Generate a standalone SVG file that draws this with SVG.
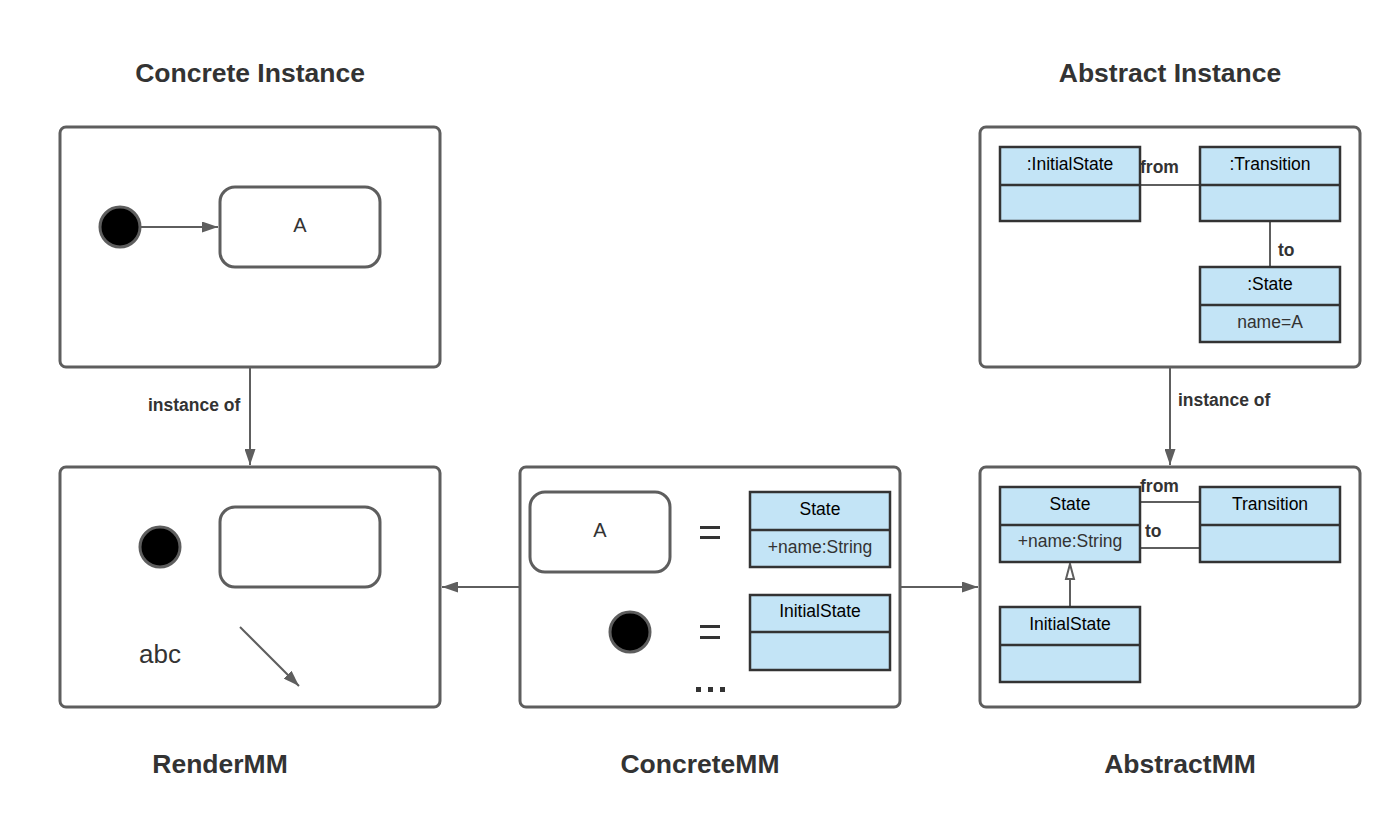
<svg xmlns="http://www.w3.org/2000/svg" width="1400" height="837" viewBox="0 0 1400 837">
<style>
.frame{fill:#fff;stroke:#5e5e5e;stroke-width:3}
.st{fill:#fff;stroke:#5e5e5e;stroke-width:3}
.dot{fill:#000;stroke:#5e5e5e;stroke-width:3}
.cls{fill:#c3e4f6;stroke:#333;stroke-width:2.5}
.div{stroke:#333;stroke-width:2.5}
.ln{stroke:#5e5e5e;stroke-width:2;fill:none}
.title{font-family:"Liberation Sans",Arial,sans-serif;font-weight:bold;font-size:26.5px;fill:#333;text-anchor:middle}
.lbl{font-family:"Liberation Sans",Arial,sans-serif;font-weight:bold;font-size:17.5px;fill:#333}
.t{font-family:"Liberation Sans",Arial,sans-serif;font-size:17.5px;fill:#000;text-anchor:middle}
.tg{font-family:"Liberation Sans",Arial,sans-serif;font-size:17.5px;fill:#333;text-anchor:middle}
</style>
<defs>
<marker id="ah" viewBox="0 0 16 11" refX="16" refY="5.5" markerWidth="16" markerHeight="11" markerUnits="userSpaceOnUse" orient="auto"><path d="M0,0 L16,5.5 L0,11 Z" fill="#5e5e5e"/></marker>
<marker id="tri" viewBox="0 0 12 18" refX="6" refY="1" markerWidth="12" markerHeight="18" markerUnits="userSpaceOnUse" orient="0"><path d="M6,1 L10,16 L2,16 Z" fill="#fff" stroke="#5e5e5e" stroke-width="2"/></marker>
</defs>
<rect width="1400" height="837" fill="#fff"/>

<text class="title" x="250" y="82">Concrete Instance</text>
<text class="title" x="1170" y="82">Abstract Instance</text>
<text class="title" x="220" y="773">RenderMM</text>
<text class="title" x="700" y="773">ConcreteMM</text>
<text class="title" x="1180" y="773">AbstractMM</text>

<g id="concrete-instance">
<rect class="frame" x="60" y="127" width="380" height="240" rx="6"/>
<circle class="dot" cx="120" cy="227" r="20"/>
<line class="ln" x1="141" y1="227" x2="218" y2="227" marker-end="url(#ah)"/>
<rect class="st" x="220" y="187" width="160" height="80" rx="15"/>
<text class="tg" x="300" y="232" style="font-size:20px">A</text>
</g>

<g id="abstract-instance">
<rect class="frame" x="980" y="127" width="380" height="240" rx="6"/>
<line class="ln" x1="1140" y1="185" x2="1200" y2="185"/>
<line class="ln" x1="1270" y1="221" x2="1270" y2="267"/>
<text class="lbl" x="1140" y="173">from</text>
<text class="lbl" x="1278" y="256">to</text>
<rect class="cls" x="1000" y="147" width="140" height="74"/>
<line class="div" x1="1000" y1="185" x2="1140" y2="185"/>
<text class="t" x="1070" y="170">:InitialState</text>
<rect class="cls" x="1200" y="147" width="140" height="74"/>
<line class="div" x1="1200" y1="185" x2="1340" y2="185"/>
<text class="t" x="1270" y="170">:Transition</text>
<rect class="cls" x="1200" y="267" width="140" height="75"/>
<line class="div" x1="1200" y1="305" x2="1340" y2="305"/>
<text class="t" x="1270" y="290">:State</text>
<text class="tg" x="1270" y="328">name=A</text>
</g>

<g id="render-mm">
<rect class="frame" x="60" y="467" width="380" height="240" rx="6"/>
<circle class="dot" cx="160" cy="547" r="20"/>
<rect class="st" x="220" y="507" width="160" height="80" rx="15"/>
<text class="tg" x="160" y="663" style="font-size:26px">abc</text>
<line class="ln" x1="240" y1="627" x2="299" y2="686" marker-end="url(#ah)"/>
</g>

<g id="concrete-mm">
<rect class="frame" x="520" y="467" width="380" height="240" rx="6"/>
<rect class="st" x="530" y="492" width="140" height="80" rx="15"/>
<text class="tg" x="600" y="537" style="font-size:20px">A</text>
<rect x="700" y="526" width="20" height="3" fill="#333"/>
<rect x="700" y="536" width="20" height="3" fill="#333"/>
<rect class="cls" x="750" y="492" width="140" height="75"/>
<line class="div" x1="750" y1="530" x2="890" y2="530"/>
<text class="t" x="820" y="515">State</text>
<text class="tg" x="820" y="553">+name:String</text>
<circle class="dot" cx="630" cy="632" r="20"/>
<rect x="700" y="625" width="20" height="3" fill="#333"/>
<rect x="700" y="636" width="20" height="3" fill="#333"/>
<rect class="cls" x="750" y="595" width="140" height="75"/>
<line class="div" x1="750" y1="632" x2="890" y2="632"/>
<text class="t" x="820" y="617">InitialState</text>
<rect x="696" y="687" width="5" height="5" fill="#333"/>
<rect x="708" y="687" width="5" height="5" fill="#333"/>
<rect x="720" y="687" width="5" height="5" fill="#333"/>
</g>

<g id="abstract-mm">
<rect class="frame" x="980" y="467" width="380" height="240" rx="6"/>
<line class="ln" x1="1140" y1="502" x2="1200" y2="502"/>
<line class="ln" x1="1140" y1="548" x2="1200" y2="548"/>
<text class="lbl" x="1140" y="492">from</text>
<text class="lbl" x="1145" y="537">to</text>
<line class="ln" x1="1070" y1="607" x2="1070" y2="564" marker-end="url(#tri)"/>
<rect class="cls" x="1000" y="487" width="140" height="75"/>
<line class="div" x1="1000" y1="525" x2="1140" y2="525"/>
<text class="t" x="1070" y="510">State</text>
<text class="tg" x="1070" y="547">+name:String</text>
<rect class="cls" x="1200" y="487" width="140" height="75"/>
<line class="div" x1="1200" y1="525" x2="1340" y2="525"/>
<text class="t" x="1270" y="510">Transition</text>
<rect class="cls" x="1000" y="607" width="140" height="75"/>
<line class="div" x1="1000" y1="645" x2="1140" y2="645"/>
<text class="t" x="1070" y="630">InitialState</text>
</g>

<g id="connectors">
<line class="ln" x1="250" y1="368" x2="250" y2="465" marker-end="url(#ah)"/>
<text class="lbl" x="148" y="411">instance of</text>
<line class="ln" x1="1170" y1="368" x2="1170" y2="465" marker-end="url(#ah)"/>
<text class="lbl" x="1178" y="406">instance of</text>
<line class="ln" x1="519" y1="587" x2="442" y2="587" marker-end="url(#ah)"/>
<line class="ln" x1="901" y1="587" x2="978" y2="587" marker-end="url(#ah)"/>
</g>
</svg>
